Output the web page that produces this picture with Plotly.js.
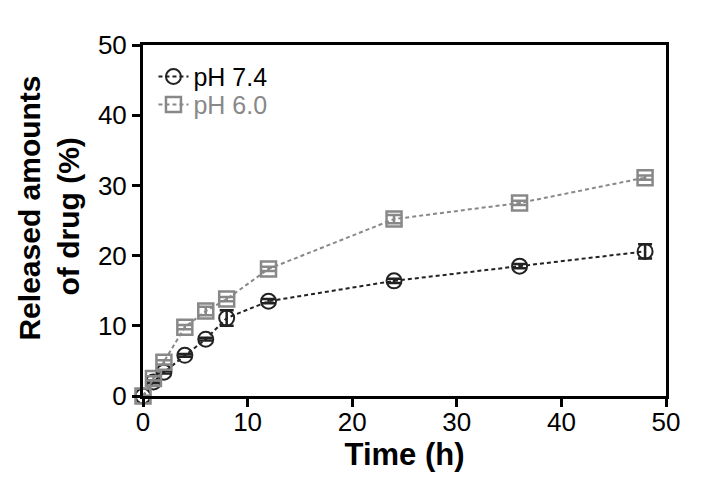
<!DOCTYPE html>
<html><head><meta charset="utf-8">
<script src="https://cdn.plot.ly/plotly-3.0.1.min.js"></script>
<style>body{margin:0;background:#fff}#c{width:703px;height:490px}</style>
</head><body><div id="c"></div>
<script>
const time = [0, 1, 2, 4, 6, 8, 12, 24, 36, 48];
const ph74 = [0, 2.0, 3.4, 5.8, 8.1, 11.1, 13.5, 16.4, 18.5, 20.6];
const ph74Err = [0, 0.2, 0.2, 0.2, 0.2, 1.1, 0.3, 0.3, 0.3, 1.0];
const ph60 = [0, 2.5, 4.8, 9.8, 12.1, 13.8, 18.1, 25.2, 27.5, 31.1];
const ph60Err = [0, 0.3, 0.3, 0.3, 0.6, 0.3, 0.3, 0.6, 0.3, 0.3];
const names = ["pH 7.4", "pH 6.0"];

const F = "Liberation Sans, Arial, sans-serif";
const traces = [
  {x: time, y: ph74, name: names[0], type: "scatter", mode: "lines+markers", cliponaxis: false, legend: "legend",
   line: {color: "#222", width: 2, dash: "4px,3px"},
   marker: {symbol: "circle-open", size: 15, color: "#222", line: {width: 2, color: "#222"}},
   error_y: {type: "data", array: ph74Err, visible: true, color: "#222", thickness: 2.5, width: 7}},
  {x: time, y: ph60, name: names[1], type: "scatter", mode: "lines+markers", cliponaxis: false, legend: "legend2",
   line: {color: "#888", width: 2, dash: "4px,3px"},
   marker: {symbol: "square-open", size: 15, color: "#888", line: {width: 2.5, color: "#888"}},
   error_y: {type: "data", array: ph60Err, visible: true, color: "#888", thickness: 2.5, width: 7}}
];

const legBase = {x: 0.02, xanchor: "left", yanchor: "top", bgcolor: "rgba(0,0,0,0)", itemwidth: 30};
const layout = {
  width: 703, height: 490,
  margin: {l: 143, r: 37, t: 45, b: 94},
  paper_bgcolor: "#fff", plot_bgcolor: "#fff",
  showlegend: true,
  legend: Object.assign({}, legBase, {y: 0.975, font: {family: F, size: 25, color: "#000"}}),
  legend2: Object.assign({}, legBase, {y: 0.895, font: {family: F, size: 25, color: "#888"}}),
  xaxis: {range: [0, 50], tickvals: [0, 10, 20, 30, 40, 50], showgrid: false, zeroline: false,
          showline: true, linecolor: "#000", linewidth: 3, mirror: true,
          ticks: "outside", ticklen: 8, tickwidth: 3, tickcolor: "#000", ticklabelstandoff: -7,
          tickfont: {family: F, size: 26, color: "#000"},
          title: {text: "<b>Time (h)</b>", font: {family: F, size: 31, color: "#000"}, standoff: 3}},
  yaxis: {range: [0, 50], tickvals: [0, 10, 20, 30, 40, 50], showgrid: false, zeroline: false,
          showline: true, linecolor: "#000", linewidth: 3, mirror: true,
          ticks: "outside", ticklen: 8, tickwidth: 3, tickcolor: "#000",
          tickfont: {family: F, size: 26, color: "#000"},
          title: {text: "<b>&nbsp;&nbsp;&nbsp;Released amounts<br>&nbsp;of drug (%)</b>", font: {family: F, size: 30, color: "#000"}, standoff: 10}}
};

Plotly.newPlot("c", traces, layout, {displayModeBar: false});
</script>
</body></html>
